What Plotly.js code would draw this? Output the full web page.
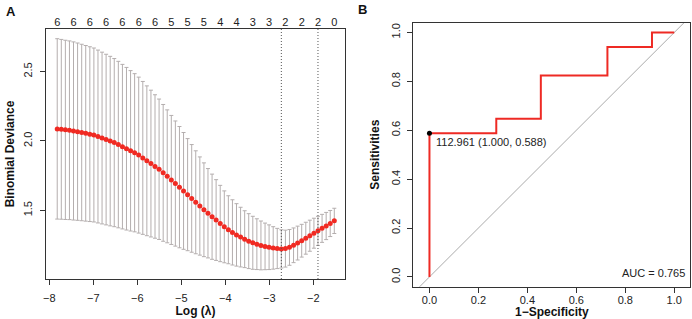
<!DOCTYPE html>
<html>
<head>
<meta charset="utf-8">
<script src="https://cdn.plot.ly/plotly-3.0.1.min.js"></script>
<style>html,body{margin:0;padding:0;background:#fff;}#chart{width:692px;height:319px;}</style>
</head>
<body>
<div id="chart"></div>
<script>
// ---- Panel A: cross-validated binomial deviance vs log(lambda) ----
const logLambda = [-7.820,-7.727,-7.635,-7.542,-7.450,-7.357,-7.264,-7.172,-7.079,-6.987,
  -6.894,-6.801,-6.709,-6.616,-6.524,-6.431,-6.338,-6.246,-6.153,-6.061,
  -5.968,-5.875,-5.783,-5.690,-5.598,-5.505,-5.412,-5.320,-5.227,-5.135,
  -5.042,-4.949,-4.857,-4.764,-4.672,-4.579,-4.486,-4.394,-4.301,-4.209,
  -4.116,-4.023,-3.931,-3.838,-3.746,-3.653,-3.560,-3.468,-3.375,-3.283,
  -3.190,-3.097,-3.005,-2.912,-2.820,-2.727,-2.634,-2.542,-2.449,-2.357,
  -2.264,-2.171,-2.079,-1.986,-1.894,-1.801,-1.708,-1.616,-1.523];
const cvMean = [2.087,2.084,2.080,2.077,2.072,2.067,2.061,2.055,2.049,2.043,
  2.032,2.021,2.010,1.999,1.988,1.974,1.959,1.944,1.929,1.915,
  1.898,1.878,1.857,1.837,1.816,1.796,1.770,1.745,1.719,1.693,
  1.667,1.640,1.613,1.586,1.558,1.531,1.504,1.479,1.454,1.430,
  1.405,1.381,1.360,1.341,1.323,1.307,1.292,1.278,1.266,1.256,
  1.247,1.240,1.234,1.229,1.225,1.222,1.224,1.233,1.248,1.264,
  1.281,1.299,1.317,1.335,1.352,1.370,1.387,1.405,1.424];
const cvSd = [0.650,0.648,0.646,0.644,0.642,0.639,0.636,0.633,0.630,0.627,
  0.623,0.619,0.615,0.611,0.606,0.600,0.593,0.586,0.578,0.570,
  0.562,0.551,0.540,0.529,0.517,0.506,0.493,0.479,0.465,0.451,
  0.437,0.421,0.404,0.388,0.371,0.354,0.338,0.322,0.307,0.291,
  0.275,0.259,0.245,0.235,0.225,0.215,0.205,0.198,0.191,0.183,
  0.176,0.168,0.161,0.153,0.145,0.138,0.133,0.129,0.125,0.122,
  0.118,0.115,0.112,0.108,0.105,0.101,0.098,0.094,0.091];
const nzeroLabels = ['6','6','6','6','6','6','6','5','5','5','4','4','3','3','2','2','2','0'];
const labelStep = 4;          // every 4th lambda carries a visible count label
const lambdaMinIdx = 55;      // log(lambda.min)
const lambda1seIdx = 64;      // log(lambda.1se)

// ---- Panel B: ROC curve ----
const rocFpr = [0, 0, 0.273, 0.455, 0.727, 0.909, 1.0];   // 1 - specificity
const rocTpr = [0, 0.588, 0.647, 0.824, 0.941, 1.0, 1.0];  // sensitivity
const bestThreshold = '112.961';
const bestSpec = 1.000, bestSens = 0.588;
const aucValue = 0.765;
const diagRef = [-0.2, 1.2];

const topTickVals = logLambda.filter((v, i) => i % labelStep === 0);
const topTickMeans = cvMean.filter((v, i) => i % labelStep === 0);

const FONT = 'Liberation Sans, Arial, Helvetica, sans-serif';
const axCol = '#333333';

const traces = [
  { x: logLambda, y: cvMean, type: 'scatter', mode: 'markers', xaxis: 'x', yaxis: 'y',
    marker: { color: '#f02a22', size: 5 },
    error_y: { type: 'data', array: cvSd, visible: true, color: '#b4aeae', thickness: 1, width: 2 },
    hoverinfo: 'x+y', showlegend: false },
  { x: topTickVals, y: topTickMeans, type: 'scatter', mode: 'markers', xaxis: 'x3', yaxis: 'y',
    marker: { opacity: 0 }, hoverinfo: 'skip', showlegend: false },
  { x: diagRef, y: diagRef, type: 'scatter', mode: 'lines', xaxis: 'x2', yaxis: 'y2',
    line: { color: '#aaaaaa', width: 1 }, hoverinfo: 'skip', showlegend: false },
  { x: rocFpr, y: rocTpr, type: 'scatter', mode: 'lines', xaxis: 'x2', yaxis: 'y2',
    line: { color: '#ee2a24', width: 2, shape: 'hv' }, showlegend: false },
  { x: [1 - bestSpec], y: [bestSens], type: 'scatter', mode: 'markers', xaxis: 'x2', yaxis: 'y2',
    marker: { color: '#000', size: 5 }, showlegend: false }
];

const W = 692, H = 319;
const tickFont = { family: FONT, size: 11, color: '#222' };
const titleFont = { family: FONT, size: 12, color: '#111', weight: 'bold' };

const layout = {
  width: W, height: H,
  margin: { l: 0, r: 0, t: 0, b: 0 },
  paper_bgcolor: '#fff', plot_bgcolor: '#fff',
  font: { family: FONT },
  showlegend: false,
  xaxis: {
    domain: [46 / W, 345 / W], anchor: 'y', range: [-8.075, -1.28],
    tickmode: 'linear', tick0: 0, dtick: 1,
    showline: true, mirror: true, linecolor: axCol, linewidth: 1,
    ticks: 'outside', ticklen: 5, tickcolor: axCol, ticklabelstandoff: 4,
    showgrid: false, zeroline: false, tickfont: tickFont,
    title: { text: 'Log (λ)', font: titleFont, standoff: 2 }
  },
  xaxis3: {
    overlaying: 'x', side: 'top', anchor: 'y', range: [-8.075, -1.28],
    tickmode: 'array', tickvals: topTickVals, ticktext: nzeroLabels,
    ticks: '', showline: false, showgrid: false, zeroline: false, tickfont: tickFont
  },
  yaxis: {
    domain: [1 - 279 / H, 1 - 29 / H], anchor: 'x', range: [1.005, 2.807],
    tickmode: 'linear', tick0: 0, dtick: 0.5, tickformat: '.1f', tickangle: -90,
    showline: true, mirror: true, linecolor: axCol, linewidth: 1,
    ticks: 'outside', ticklen: 5, tickcolor: axCol, ticklabelstandoff: 4,
    showgrid: false, zeroline: false, tickfont: tickFont,
    title: { text: 'Binomial Deviance', font: titleFont, standoff: 4 }
  },
  xaxis2: {
    domain: [413.3 / W, 690.4 / W], anchor: 'y2', range: [-0.066, 1.066],
    tickmode: 'linear', tick0: 0, dtick: 0.2, tickformat: '.1f',
    showline: true, mirror: true, linecolor: axCol, linewidth: 1,
    ticks: 'outside', ticklen: 5, tickcolor: axCol, ticklabelstandoff: -2,
    showgrid: false, zeroline: false, tickfont: tickFont,
    title: { text: '1−Specificity', font: titleFont, standoff: 4 }
  },
  yaxis2: {
    domain: [1 - 286.7 / H, 1 - 22.7 / H], anchor: 'x2', range: [-0.04, 1.04],
    tickmode: 'linear', tick0: 0, dtick: 0.2, tickformat: '.1f', tickangle: -90,
    showline: true, mirror: true, linecolor: axCol, linewidth: 1,
    ticks: 'outside', ticklen: 5, tickcolor: axCol, ticklabelstandoff: 3,
    showgrid: false, zeroline: false, tickfont: tickFont,
    title: { text: 'Sensitivities', font: titleFont, standoff: 7 }
  },
  shapes: [
    { type: 'line', xref: 'x', yref: 'y domain', x0: logLambda[lambdaMinIdx], x1: logLambda[lambdaMinIdx],
      y0: 0, y1: 1, line: { color: '#555', width: 1, dash: '1px,2px' } },
    { type: 'line', xref: 'x', yref: 'y domain', x0: logLambda[lambda1seIdx], x1: logLambda[lambda1seIdx],
      y0: 0, y1: 1, line: { color: '#555', width: 1, dash: '1px,2px' } }
  ],
  annotations: [
    { text: '<b>A</b>', xref: 'paper', yref: 'paper', x: 4 / W, y: 1 - 2 / H, xanchor: 'left', yanchor: 'top',
      showarrow: false, font: { family: FONT, size: 13, color: '#111' } },
    { text: '<b>B</b>', xref: 'paper', yref: 'paper', x: 356 / W, y: 1 - 0 / H, xanchor: 'left', yanchor: 'top',
      showarrow: false, font: { family: FONT, size: 13, color: '#111' } },
    { text: bestThreshold + ' (' + bestSpec.toFixed(3) + ', ' + bestSens.toFixed(3) + ')',
      xref: 'x2', yref: 'y2', x: 1 - bestSpec, y: bestSens, xanchor: 'left', yanchor: 'middle',
      xshift: 5, yshift: -9, showarrow: false, font: { family: FONT, size: 11, color: '#222' } },
    { text: 'AUC = ' + aucValue.toFixed(3), xref: 'x2', yref: 'y2', x: 1.052, y: 0.016,
      xanchor: 'right', yanchor: 'middle', showarrow: false, font: { family: FONT, size: 11, color: '#222' } }
  ]
};

Plotly.newPlot('chart', traces, layout, { staticPlot: true, displayModeBar: false });
</script>
</body>
</html>
